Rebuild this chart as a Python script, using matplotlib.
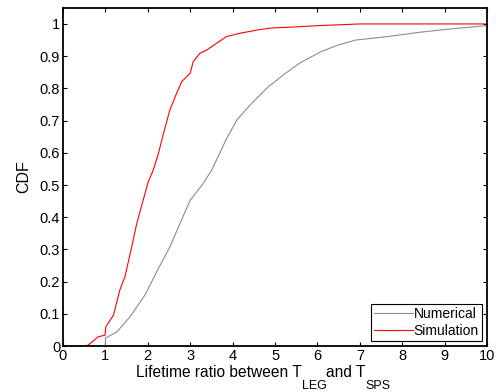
import matplotlib.pyplot as plt
import numpy as np

plt.rcParams['font.family'] = ['Liberation Sans', 'DejaVu Sans']

# Numerical CDF (gray)
num_x = [0, 1.0, 1.0, 1.27, 1.58, 1.93, 2.25, 2.52, 2.76, 3.0, 3.28, 3.51, 3.86,
         4.10, 4.41, 4.84, 5.28, 5.6, 6.1, 6.5, 6.9, 7.6, 8.4, 9.1, 10]
num_y = [0, 0, 0.025, 0.044, 0.091, 0.158, 0.241, 0.308, 0.381, 0.453, 0.5, 0.547, 0.645,
         0.702, 0.748, 0.805, 0.85, 0.88, 0.915, 0.935, 0.95, 0.96, 0.974, 0.984, 0.995]

# Simulation CDF (red)
sim_x = [0, 0.55, 0.64, 0.83, 0.99, 1.01, 1.19, 1.34, 1.46, 1.62, 1.74, 1.89, 2.01,
         2.13, 2.25, 2.37, 2.52, 2.68, 2.80, 3.0, 3.07, 3.23, 3.39, 3.62, 3.86, 4.17,
         4.57, 4.88, 5.5, 6.06, 7.0, 10]
sim_y = [0, 0, 0.008, 0.029, 0.034, 0.06, 0.096, 0.174, 0.215, 0.308, 0.381, 0.453, 0.51,
         0.547, 0.598, 0.66, 0.733, 0.785, 0.821, 0.847, 0.883, 0.909, 0.919, 0.94, 0.961, 0.971,
         0.981, 0.987, 0.991, 0.995, 1.0, 1.0]

xticks = np.arange(0, 11, 1)
yticks = np.round(np.arange(0, 1.01, 0.1), 1)
ytick_labels = ["0"] + ["%.1f" % v for v in yticks[1:-1]] + ["1"]

W, H = 496, 392
fig = plt.figure(figsize=(W / 100, H / 100), dpi=100)
ax = fig.add_axes([0.127, 0.117, 0.855, 0.863])

ax.plot(num_x, num_y, color="#8c8c8c", lw=0.8, label="Numerical")
ax.plot(sim_x, sim_y, color="#ff0000", lw=0.8, label="Simulation")

ax.set_xlim(0, 10)
ax.set_ylim(0, 1.05)
ax.set_xticks(xticks)
ax.set_yticks(yticks)
ax.set_yticklabels(ytick_labels)
ax.tick_params(direction="in", top=True, right=True, labelsize=10.5, length=3, width=0.8, pad=2)
for s in ax.spines.values():
    s.set_linewidth(1.3)

ax.set_ylabel("CDF", fontsize=11.5, labelpad=6)

# x label with MATLAB-style low subscripts: pieces placed one after another
pieces = [("Lifetime ratio between T", 11.2, 15),
          ("LEG", 9, 3),
          ("and T", 11.2, 15),
          ("SPS", 9, 3)]
renderer = fig.canvas.get_renderer()
x = 136
for s, size, base in pieces:
    t = fig.text(x / W, base / H, s, fontsize=size, ha="left", va="baseline")
    x = t.get_window_extent(renderer).x1

leg = ax.legend(loc="lower right", fontsize=10, frameon=True, fancybox=False,
                edgecolor="black", framealpha=1, handlelength=2.8, handletextpad=0.05,
                borderpad=0.25, labelspacing=0.2, borderaxespad=0.35)
leg.get_frame().set_linewidth(0.8)

fig.savefig("out.png", dpi=100)
